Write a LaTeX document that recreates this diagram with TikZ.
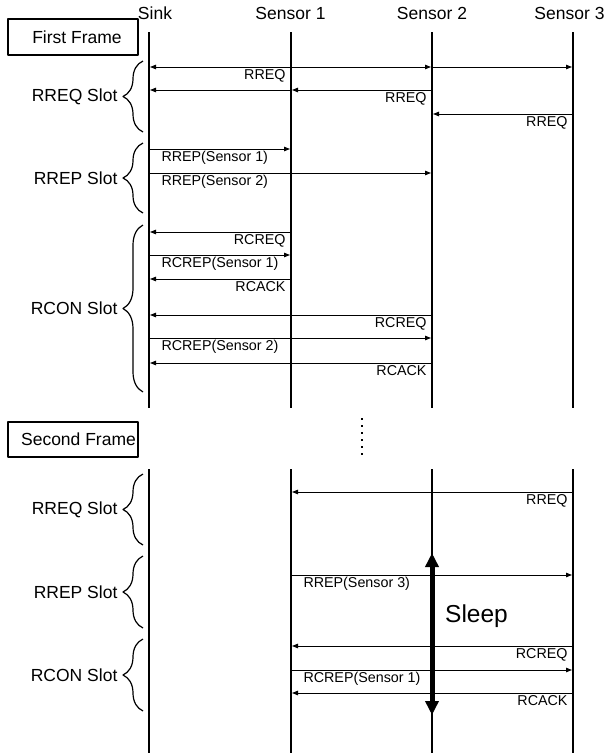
\documentclass[tikz,border=0pt]{standalone}
\usepackage{fontspec}
\setmainfont{Liberation Sans}
\usetikzlibrary{arrows.meta,decorations.pathreplacing}

\tikzset{
	life/.style={line width=2pt},
	msg/.style={line width=1pt, -{Triangle[length=6pt,width=4.5pt]}, shorten >=1pt},
	msglabel/.style={font=\fontsize{14.3}{16}\selectfont, inner sep=0pt},
	head/.style={inner sep=0pt, anchor=base},
	slot/.style={line width=1.2pt, decorate, decoration={brace, amplitude=20pt}},
	framebox/.style={line width=1.5pt},
}

\begin{document}
\begin{tikzpicture}[x=1pt, y=-1pt, line join=round, font=\fontsize{17.5}{21}\selectfont]
	\useasboundingbox (0,0) rectangle (610,753);
	\foreach \n/\x/\hx/\t in {sink/149/155/Sink, s1/291/290.5/Sensor 1, s2/432/432/Sensor 2, s3/573/569.5/Sensor 3} {
		\coordinate (\n) at (\x,0);
		\node[head] (h\n) at (\hx,19.5) {\t};
		\draw[life] (\x,32) -- (\x,408);
		\draw[life] (\x,469) -- (\x,753);
	}
	\draw[framebox] (8,19) rectangle (138,55);
	\node (first) at (77,37) {First Frame};
	\draw[framebox] (8,422) rectangle (138,457);
	\node (second) at (78.5,439.5) {Second Frame};
	\foreach \i in {0,...,5}
		\fill (360.8,417.8+7*\i) rectangle ++(2.4,2.4);
	\foreach \t/\ya/\yb in {RREQ/61/132, RREP/143/213, RCON/225/392, RREQ/474/545, RREP/556/628, RCON/639/711}
		\draw[slot] (143,\yb) -- (143,\ya) node[midway, anchor=east, xshift=-25pt, inner sep=0pt] (\t\ya) {\t\ Slot};
	\foreach \a/\b/\y/\t in {s1/sink/67/RREQ, s2/s1/90/RREQ, s3/s2/114/RREQ, s1/sink/232/RCREQ, s1/sink/279/RCACK, s2/sink/315/RCREQ, s2/sink/363/RCACK, s3/s1/492/RREQ, s3/s1/646/RCREQ, s3/s1/693/RCACK}
		\draw[msg] (\a |- 0,\y) -- (\b |- 0,\y) node[msglabel, pos=0, anchor=base east, xshift=-5pt, yshift=-12.5pt] (l\y) {\t};
	\foreach \a/\b/\y/\t in {sink/s1/149/RREP(Sensor 1), sink/s2/173/RREP(Sensor 2), sink/s1/255/RCREP(Sensor 1), sink/s2/338/RCREP(Sensor 2), s1/s3/575/RREP(Sensor 3), s1/s3/670/RCREP(Sensor 1)}
		\draw[msg] (\a |- 0,\y) -- (\b |- 0,\y) node[msglabel, pos=0, anchor=base west, xshift=12pt, yshift=-12.5pt] (l\y) {\t};
	\foreach \a/\b/\y in {s1/s2/67, s2/s3/67, s1/sink/90}
		\draw[msg] (\a |- 0,\y) -- (\b |- 0,\y);
	\coordinate (sleeptop) at (432,553);
	\coordinate (sleepbot) at (432,715);
	\draw[line width=5pt, {Triangle[length=14pt,width=13pt]}-{Triangle[length=14pt,width=13pt]}] (sleeptop) -- (sleepbot);
	\node[font=\fontsize{24.5}{28}\selectfont, anchor=base west, inner sep=0pt] (sleep) at (445,622) {Sleep};
\end{tikzpicture}
\end{document}
